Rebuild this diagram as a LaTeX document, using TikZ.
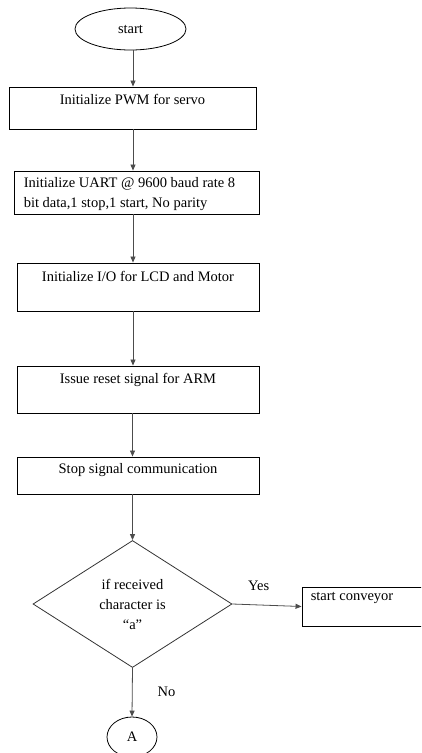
\documentclass[tikz,border=0pt]{standalone}
\usepackage{fontspec}
\setmainfont{Liberation Serif}
\usetikzlibrary{shapes.geometric,arrows.meta}
\begin{document}
\begin{tikzpicture}[x=1pt,y=-1pt,
  font=\fontsize{14.5}{20}\selectfont,
  box/.style={draw=black, line width=0.9pt, rectangle, inner sep=0pt},
  boxtext/.style={anchor=north, inner sep=0pt},
  boxtextleft/.style={anchor=north west, inner sep=0pt, align=left},
  term/.style={draw=black, line width=0.8pt, ellipse, inner sep=0pt},
  decision/.style={draw=black!80, line width=0.8pt, diamond, inner sep=0pt, align=center},
  flow/.style={draw=black!70, line width=0.8pt, -{Triangle[length=6pt,width=5pt]}},
  branch/.style={inner sep=0pt},
]
\useasboundingbox (0,0) rectangle (421,753);
\clip (0,0) rectangle (421,753);

% terminals
\node[term, minimum width=111pt, minimum height=42pt] (start) at (130.5,29) {start};
\node[term, minimum width=50pt, minimum height=40pt] (A) at (132,737) {A};

% process boxes
\node[box, minimum width=247pt, minimum height=42pt,
      label={[boxtext, yshift=-8pt]north:Initialize PWM for servo}] (pwm) at (132.5,108) {};
\node[box, minimum width=245pt, minimum height=43pt,
      label={[boxtextleft, xshift=10pt, yshift=-7pt]north west:Initialize UART @ 9600 baud rate 8\\bit data,1 stop,1 start, No parity}] (uart) at (136.5,192.5) {};
\node[box, minimum width=242pt, minimum height=48pt,
      label={[boxtext, yshift=-9pt]north:Initialize I/O for LCD and Motor}] (io) at (138,287) {};
\node[box, minimum width=242pt, minimum height=47pt,
      label={[boxtext, yshift=-8pt]north:Issue reset signal for ARM}] (reset) at (138,389.5) {};
\node[box, minimum width=242pt, minimum height=37pt,
      label={[boxtext, yshift=-7pt]north:Stop signal communication}] (stop) at (138,475.5) {};

% decision and its branch
\node[decision, aspect=1.567, minimum width=199pt, minimum height=127pt] (dec) at (132.5,604)
  {if received\\character is\\“a”};
\node[box, minimum width=138pt, minimum height=39pt,
      label={[boxtextleft, xshift=9pt, yshift=-6pt]north west:start conveyor}] (conv) at (371,606.5) {};

% main vertical line of the flow
\coordinate (spine) at (133,0);

\draw[flow] (start.south -| spine) -- (pwm.north -| spine);
\draw[flow] (pwm.south -| spine) -- (uart.north -| spine);
\draw[flow] (uart.south -| spine) -- (io.north -| spine);
\draw[flow] (io.south -| spine) -- (reset.north -| spine);
\draw[flow] (reset.south -| dec.north) -- (stop.north -| dec.north);
\draw[flow] (stop.south -| dec.north) -- (dec.north);
\draw[flow] (dec.east) -- (conv.west) node[branch, pos=0.38, above=14pt] {Yes};
\draw[flow] (dec.south) -- (A.north) node[branch, midway, right=25pt] {No};
\end{tikzpicture}
\end{document}
